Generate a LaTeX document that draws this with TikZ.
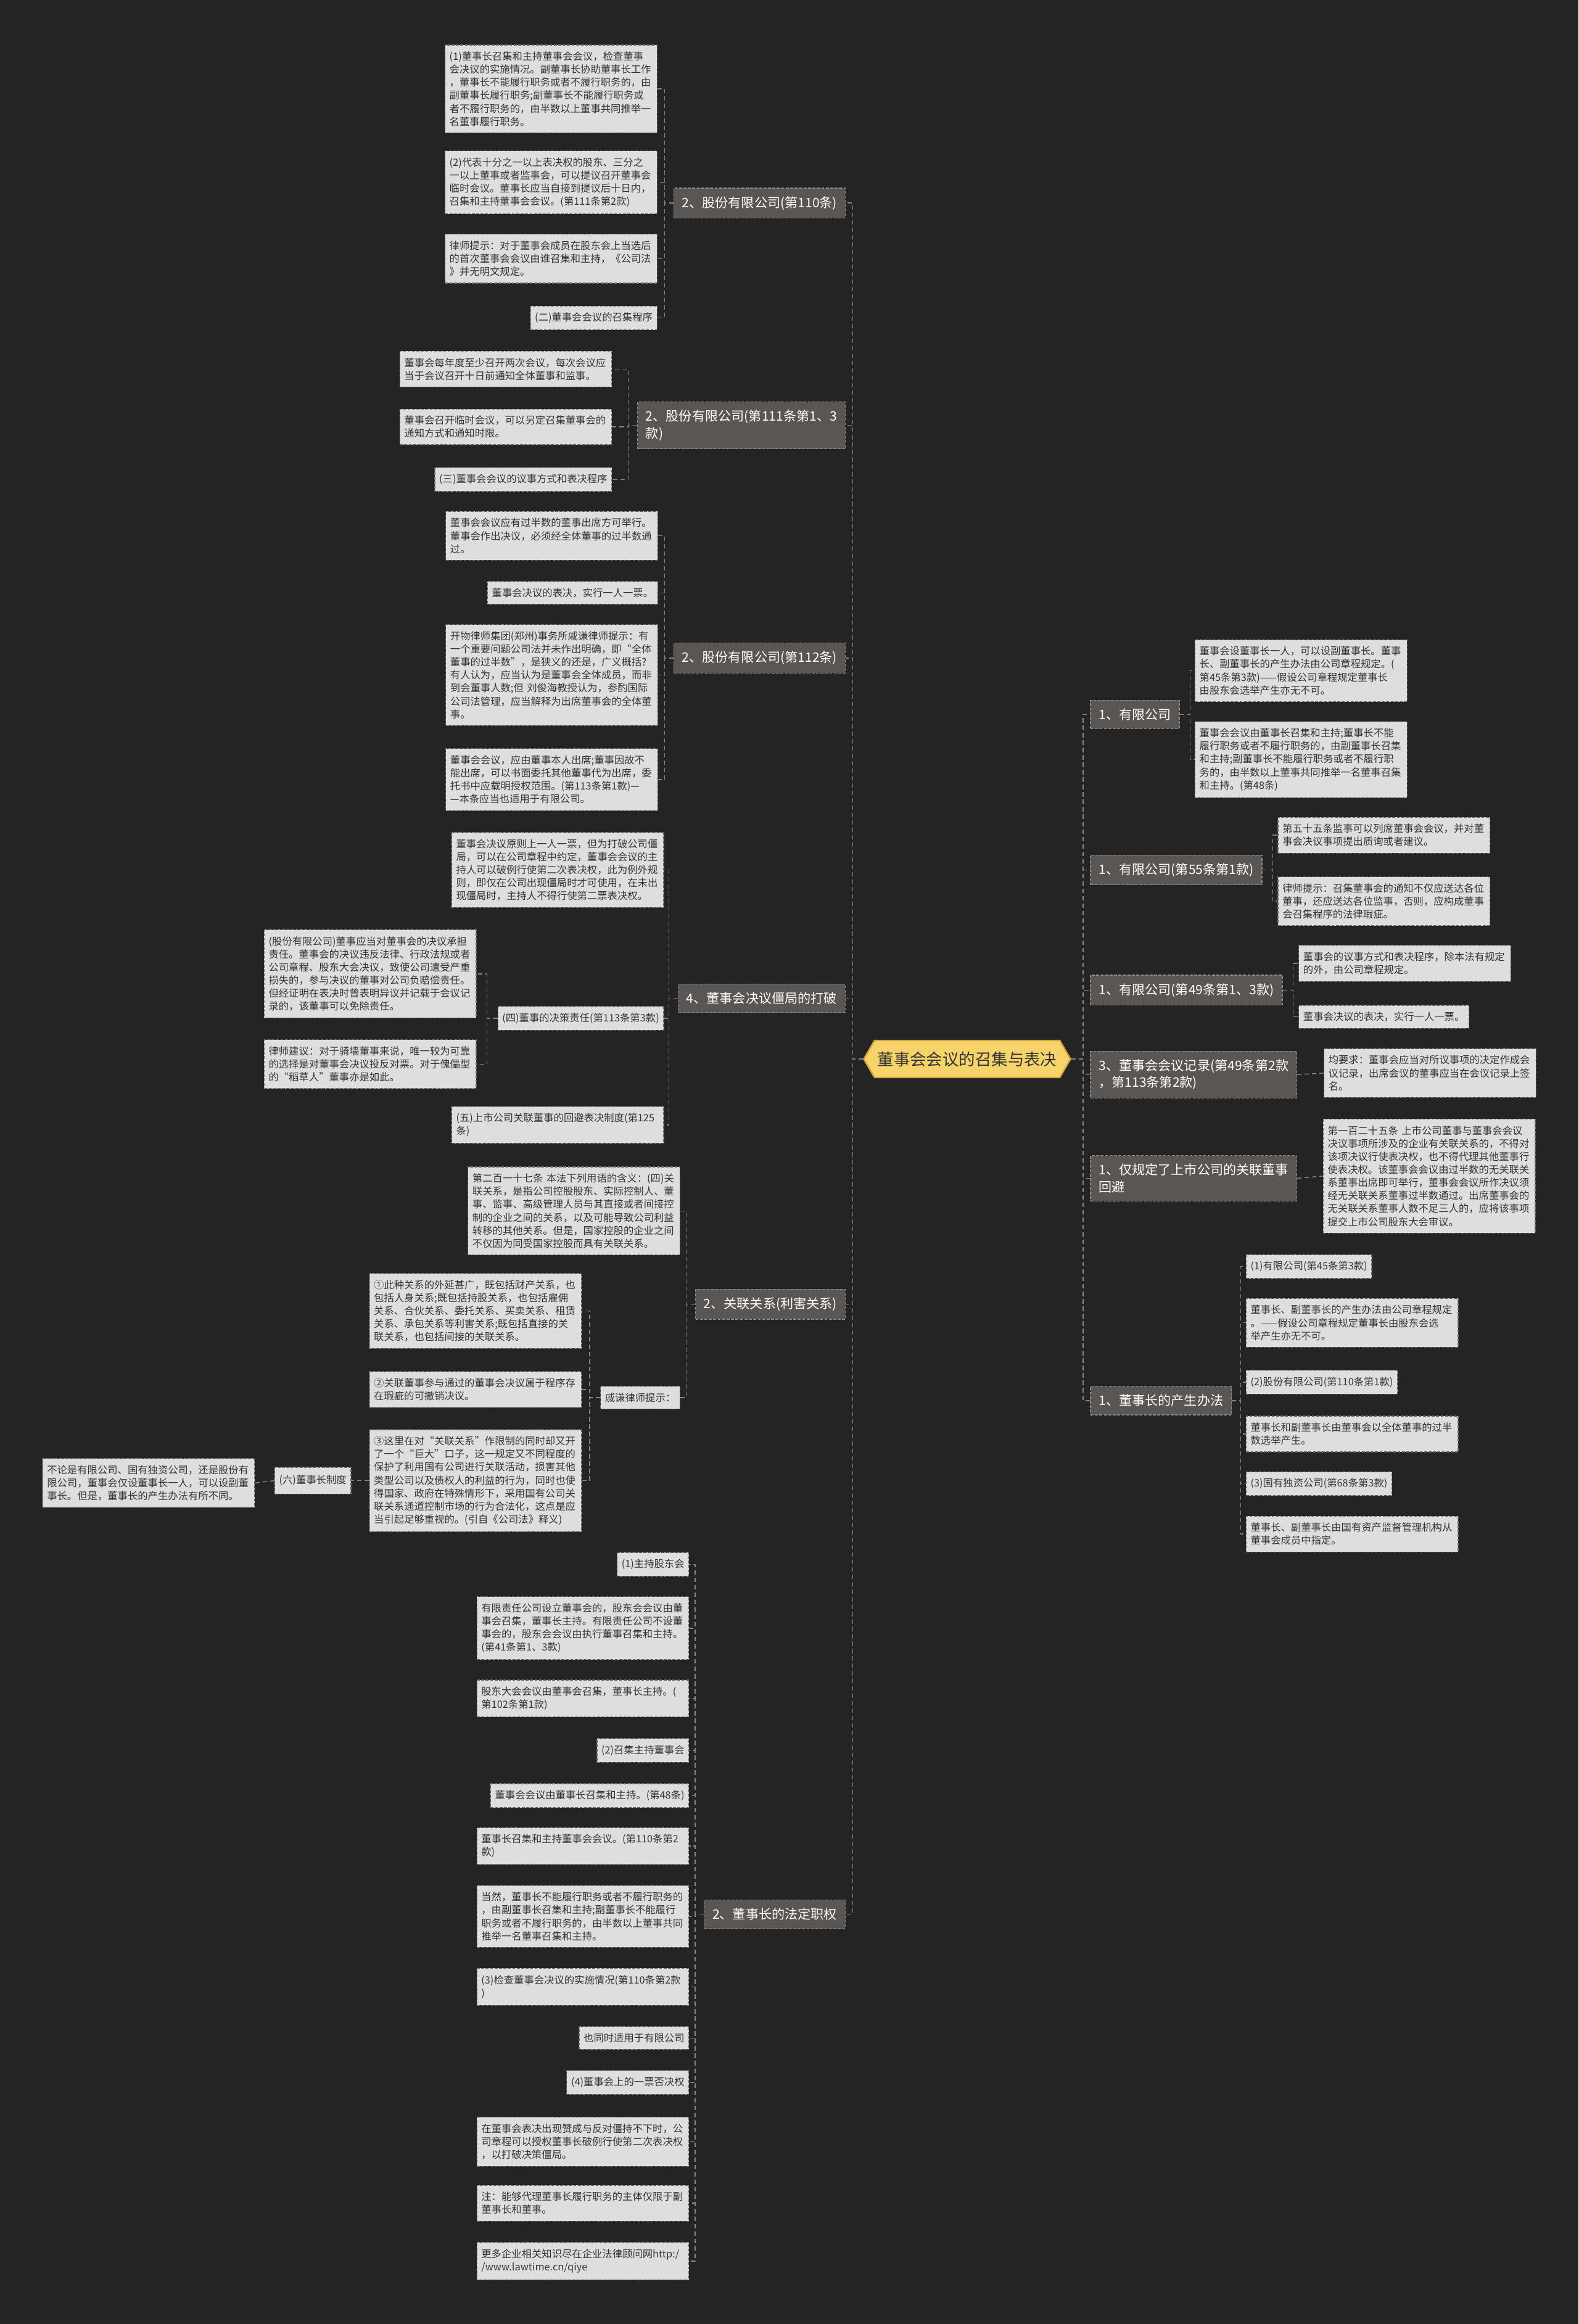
\documentclass[tikz,border=0pt]{standalone}
\usepackage{fontspec}
\setmainfont{Noto Sans CJK SC}
\usetikzlibrary{shapes.symbols}
\definecolor{bgc}{HTML}{242424}
\definecolor{leaffill}{HTML}{DEDEDE}
\definecolor{leafline}{HTML}{6A6A6A}
\definecolor{leaftext}{HTML}{333333}
\definecolor{brfill}{HTML}{5A5654}
\definecolor{brline}{HTML}{8E8A88}
\definecolor{connc}{HTML}{858585}
\definecolor{rootfill}{HTML}{F6D36B}
\definecolor{rootline}{HTML}{D4A43C}
\newcommand\leaffont{\fontsize{6.8}{8.8}\selectfont}
\newcommand\brfont{\fontsize{8.8}{11.5}\selectfont}
\newcommand\rootfont{\fontsize{11}{13}\selectfont}
\begin{document}
\begin{tikzpicture}[x=1pt,y=-1pt,
 leaf/.style={draw=leafline, dash pattern=on 2pt off 1pt, line width=0.5pt, fill=leaffill, text=leaftext, font=\leaffont, align=left, inner xsep=3pt, inner ysep=4.5pt},
 wide/.style={text width=137pt},
 br/.style={draw=brline, dash pattern=on 2pt off 1pt, line width=0.5pt, fill=brfill, text=white, font=\brfont, align=left, inner xsep=5.5pt, inner ysep=5.5pt},
 conn/.style={draw=connc, dash pattern=on 3pt off 2pt, line width=0.6pt},
 rootnode/.style={shape=signal, signal to=west and east, signal pointer angle=120, fill=rootfill, draw=rootline, line width=1pt, text=leaftext, font=\rootfont, minimum height=25pt, inner xsep=2pt}]
\fill[bgc] (0,0) rectangle (1065,1568);
\useasboundingbox (0,0) rectangle (1065,1568);

\node[rootnode] (root) at (652.5,714.5) {董事会会议的召集与表决};

% ---------- left branches
\node[br,anchor=east] (b1) at (570.5,137) {2、股份有限公司(第110条)};
\node[br,anchor=east] (b2) at (570.5,287) {2、股份有限公司(第111条第1、3\\款)};
\node[br,anchor=east] (b3) at (570.5,444) {2、股份有限公司(第112条)};
\node[br,anchor=east] (b4) at (570.5,673.5) {4、董事会决议僵局的打破};
\node[br,anchor=east] (b5) at (570.5,880) {2、关联关系(利害关系)};
\node[br,anchor=east] (b6) at (570.5,1291.5) {2、董事长的法定职权};

% ---------- right branches
\node[br,anchor=west] (r1) at (735.5,482) {1、有限公司};
\node[br,anchor=west] (r2) at (735.5,587) {1、有限公司(第55条第1款)};
\node[br,anchor=west] (r3) at (735.5,668) {1、有限公司(第49条第1、3款)};
\node[br,anchor=west] (r4) at (735.5,725) {3、董事会会议记录(第49条第2款\\，第113条第2款)};
\node[br,anchor=west] (r5) at (735.5,795) {1、仅规定了上市公司的关联董事\\回避};
\node[br,anchor=west] (r6) at (735.5,945) {1、董事长的产生办法};

% ---------- b1 leaves
\node[leaf,wide,anchor=east] (l1a) at (443.5,60) {(1)董事长召集和主持董事会会议，检查董事\\会决议的实施情况。副董事长协助董事长工作\\，董事长不能履行职务或者不履行职务的，由\\副董事长履行职务;副董事长不能履行职务或\\者不履行职务的，由半数以上董事共同推举一\\名董事履行职务。};
\node[leaf,wide,anchor=east] (l1b) at (443.5,123) {(2)代表十分之一以上表决权的股东、三分之\\一以上董事或者监事会，可以提议召开董事会\\临时会议。董事长应当自接到提议后十日内，\\召集和主持董事会会议。(第111条第2款)};
\node[leaf,wide,anchor=east] (l1c) at (443.5,174.5) {律师提示：对于董事会成员在股东会上当选后\\的首次董事会会议由谁召集和主持，《公司法\\》并无明文规定。};
\node[leaf,anchor=east] (l1d) at (443.5,214.5) {(二)董事会会议的召集程序};

% ---------- b2 leaves
\node[leaf,wide,anchor=east] (l2a) at (413,249) {董事会每年度至少召开两次会议，每次会议应\\当于会议召开十日前通知全体董事和监事。};
\node[leaf,wide,anchor=east] (l2b) at (413,288) {董事会召开临时会议，可以另定召集董事会的\\通知方式和通知时限。};
\node[leaf,anchor=east] (l2c) at (413,323.5) {(三)董事会会议的议事方式和表决程序};

% ---------- b3 leaves
\node[leaf,wide,anchor=east] (l3a) at (444,361.5) {董事会会议应有过半数的董事出席方可举行。\\董事会作出决议，必须经全体董事的过半数通\\过。};
\node[leaf,anchor=east] (l3b) at (444,400) {董事会决议的表决，实行一人一票。};
\node[leaf,wide,anchor=east] (l3c) at (444,455.5) {开物律师集团(郑州)事务所戚谦律师提示：有\\一个重要问题公司法并未作出明确，即“全体\\董事的过半数”，是狭义的还是，广义概括?\\有人认为，应当认为是董事会全体成员，而非\\到会董事人数;但~刘俊海教授认为，参酌国际\\公司法管理，应当解释为出席董事会的全体董\\事。};
\node[leaf,wide,anchor=east] (l3d) at (444,526) {董事会会议，应由董事本人出席;董事因故不\\能出席，可以书面委托其他董事代为出席，委\\托书中应载明授权范围。(第113条第1款)—\\—本条应当也适用于有限公司。};

% ---------- b4 leaves
\node[leaf,wide,anchor=east] (l4a) at (448,587) {董事会决议原则上一人一票，但为打破公司僵\\局，可以在公司章程中约定，董事会会议的主\\持人可以破例行使第二次表决权，此为例外规\\则，即仅在公司出现僵局时才可使用，在未出\\现僵局时，主持人不得行使第二票表决权。};
\node[leaf,anchor=east] (l4b) at (448,687) {(四)董事的决策责任(第113条第3款)};
\node[leaf,wide,anchor=east] (l4b1) at (321.5,657) {(股份有限公司)董事应当对董事会的决议承担\\责任。董事会的决议违反法律、行政法规或者\\公司章程、股东大会决议，致使公司遭受严重\\损失的，参与决议的董事对公司负赔偿责任。\\但经证明在表决时曾表明异议并记载于会议记\\录的，该董事可以免除责任。};
\node[leaf,wide,anchor=east] (l4b2) at (321.5,718) {律师建议：对于骑墙董事来说，唯一较为可靠\\的选择是对董事会决议投反对票。对于傀儡型\\的“稻草人”董事亦是如此。};
\node[leaf,wide,anchor=east] (l4c) at (448,759) {(五)上市公司关联董事的回避表决制度(第125\\条)};

% ---------- b5 leaves
\node[leaf,wide,anchor=east] (l5a) at (459,817) {第二百一十七条~本法下列用语的含义：(四)关\\联关系，是指公司控股股东、实际控制人、董\\事、监事、高级管理人员与其直接或者间接控\\制的企业之间的关系，以及可能导致公司利益\\转移的其他关系。但是，国家控股的企业之间\\不仅因为同受国家控股而具有关联关系。};
\node[leaf,anchor=east] (l5b) at (459,943) {戚谦律师提示：};
\node[leaf,wide,anchor=east] (l5b1) at (392.5,884.5) {①此种关系的外延甚广，既包括财产关系，也\\包括人身关系;既包括持股关系，也包括雇佣\\关系、合伙关系、委托关系、买卖关系、租赁\\关系、承包关系等利害关系;既包括直接的关\\联关系，也包括间接的关联关系。};
\node[leaf,wide,anchor=east] (l5b2) at (392.5,937.5) {②关联董事参与通过的董事会决议属于程序存\\在瑕疵的可撤销决议。};
\node[leaf,wide,anchor=east] (l5b3) at (392.5,999) {③这里在对“关联关系”作限制的同时却又开\\了一个“巨大”口子，这一规定又不同程度的\\保护了利用国有公司进行关联活动，损害其他\\类型公司以及债权人的利益的行为，同时也使\\得国家、政府在特殊情形下，采用国有公司关\\联关系通道控制市场的行为合法化，这点是应\\当引起足够重视的。(引自《公司法》释义)};
\node[leaf,anchor=east,minimum height=18pt] (l6) at (237,999) {(六)董事长制度};
\node[leaf,wide,anchor=east] (l6a) at (172,1000.5) {不论是有限公司、国有独资公司，还是股份有\\限公司，董事会仅设董事长一人，可以设副董\\事长。但是，董事长的产生办法有所不同。};

% ---------- b6 leaves
\node[leaf,anchor=east] (m1) at (465,1055.5) {(1)主持股东会};
\node[leaf,wide,anchor=east] (m2) at (465,1098.5) {有限责任公司设立董事会的，股东会会议由董\\事会召集，董事长主持。有限责任公司不设董\\事会的，股东会会议由执行董事召集和主持。\\(第41条第1、3款)};
\node[leaf,wide,anchor=east] (m3) at (465,1146) {股东大会会议由董事会召集，董事长主持。(\\第102条第1款)};
\node[leaf,anchor=east] (m4) at (465,1181) {(2)召集主持董事会};
\node[leaf,anchor=east] (m5) at (465,1211.5) {董事会会议由董事长召集和主持。(第48条)};
\node[leaf,wide,anchor=east] (m6) at (465,1245.5) {董事长召集和主持董事会会议。(第110条第2\\款)};
\node[leaf,wide,anchor=east] (m7) at (465,1293) {当然，董事长不能履行职务或者不履行职务的\\，由副董事长召集和主持;副董事长不能履行\\职务或者不履行职务的，由半数以上董事共同\\推举一名董事召集和主持。};
\node[leaf,wide,anchor=east] (m8) at (465,1340.5) {(3)检查董事会决议的实施情况(第110条第2款\\)};
\node[leaf,anchor=east] (m9) at (465,1375) {也同时适用于有限公司};
\node[leaf,anchor=east] (m10) at (465,1405) {(4)董事会上的一票否决权};
\node[leaf,wide,anchor=east] (m11) at (465,1445) {在董事会表决出现赞成与反对僵持不下时，公\\司章程可以授权董事长破例行使第二次表决权\\，以打破决策僵局。};
\node[leaf,wide,anchor=east] (m12) at (465,1486.5) {注：能够代理董事长履行职务的主体仅限于副\\董事长和董事。};
\node[leaf,wide,anchor=east] (m13) at (465,1525.5) {更多企业相关知识尽在企业法律顾问网http:/\\/www.lawtime.cn/qiye};

% ---------- right leaves
\node[leaf,wide,anchor=west] (n1a) at (806,452.5) {董事会设董事长一人，可以设副董事长。董事\\长、副董事长的产生办法由公司章程规定。(\\第45条第3款)——假设公司章程规定董事长\\由股东会选举产生亦无不可。};
\node[leaf,wide,anchor=west] (n1b) at (806,512.5) {董事会会议由董事长召集和主持;董事长不能\\履行职务或者不履行职务的，由副董事长召集\\和主持;副董事长不能履行职务或者不履行职\\务的，由半数以上董事共同推举一名董事召集\\和主持。(第48条)};
\node[leaf,wide,anchor=west] (n2a) at (862,563.5) {第五十五条监事可以列席董事会会议，并对董\\事会决议事项提出质询或者建议。};
\node[leaf,wide,anchor=west] (n2b) at (862,608) {律师提示：召集董事会的通知不仅应送达各位\\董事，还应送达各位监事，否则，应构成董事\\会召集程序的法律瑕疵。};
\node[leaf,wide,anchor=west] (n3a) at (876,650) {董事会的议事方式和表决程序，除本法有规定\\的外，由公司章程规定。};
\node[leaf,anchor=west] (n3b) at (876,686) {董事会决议的表决，实行一人一票。};
\node[leaf,wide,anchor=west] (n4a) at (893,724) {均要求：董事会应当对所议事项的决定作成会\\议记录，出席会议的董事应当在会议记录上签\\名。};
\node[leaf,wide,anchor=west] (n5a) at (892.5,793.5) {第一百二十五条~上市公司董事与董事会会议\\决议事项所涉及的企业有关联关系的，不得对\\该项决议行使表决权，也不得代理其他董事行\\使表决权。该董事会会议由过半数的无关联关\\系董事出席即可举行，董事会会议所作决议须\\经无关联关系董事过半数通过。出席董事会的\\无关联关系董事人数不足三人的，应将该事项\\提交上市公司股东大会审议。};
\node[leaf,anchor=west] (n6a) at (840.5,854.5) {(1)有限公司(第45条第3款)};
\node[leaf,wide,anchor=west] (n6b) at (840.5,892.5) {董事长、副董事长的产生办法由公司章程规定\\。——假设公司章程规定董事长由股东会选\\举产生亦无不可。};
\node[leaf,anchor=west] (n6c) at (840.5,932.5) {(2)股份有限公司(第110条第1款)};
\node[leaf,wide,anchor=west] (n6d) at (840.5,967.5) {董事长和副董事长由董事会以全体董事的过半\\数选举产生。};
\node[leaf,anchor=west] (n6e) at (840.5,1001) {(3)国有独资公司(第68条第3款)};
\node[leaf,wide,anchor=west] (n6f) at (840.5,1035) {董事长、副董事长由国有资产监督管理机构从\\董事会成员中指定。};

% ---------- connectors: root to branches
\foreach \b in {b1,b2,b3,b4,b5,b6}
  \draw[conn] (root.west) -- ++(-7,0) |- (\b.east);
\foreach \b in {r1,r2,r3,r4,r5,r6}
  \draw[conn] (root.east) -- ++(8,0) |- (\b.west);

% left branch children
\foreach \c in {l1a,l1b,l1c,l1d}
  \draw[conn] (b1.west) -- ++(-6,0) |- (\c.east);
\foreach \c in {l2a,l2b,l2c}
  \draw[conn] (b2.west) -- ++(-6,0) |- (\c.east);
\foreach \c in {l3a,l3b,l3c,l3d}
  \draw[conn] (b3.west) -- ++(-6,0) |- (\c.east);
\foreach \c in {l4a,l4b,l4c}
  \draw[conn] (b4.west) -- ++(-6,0) |- (\c.east);
\foreach \c in {l4b1,l4b2}
  \draw[conn] (l4b.west) -- ++(-7,0) |- (\c.east);
\foreach \c in {l5a,l5b}
  \draw[conn] (b5.west) -- ++(-6,0) |- (\c.east);
\foreach \c in {l5b1,l5b2,l5b3}
  \draw[conn] (l5b.west) -- ++(-7,0) |- (\c.east);
\draw[conn] (l5b3.west) -- (l6.east);
\draw[conn] (l6.west) -- (l6a.east);
\foreach \c in {m1,m2,m3,m4,m5,m6,m7,m8,m9,m10,m11,m12,m13}
  \draw[conn] (b6.west) -- ++(-6,0) |- (\c.east);

% right branch children
\foreach \c in {n1a,n1b}
  \draw[conn] (r1.east) -- ++(7,0) |- (\c.west);
\foreach \c in {n2a,n2b}
  \draw[conn] (r2.east) -- ++(7,0) |- (\c.west);
\foreach \c in {n3a,n3b}
  \draw[conn] (r3.east) -- ++(7,0) |- (\c.west);
\draw[conn] (r4.east) -- (n4a.west);
\draw[conn] (r5.east) -- (n5a.west);
\foreach \c in {n6a,n6b,n6c,n6d,n6e,n6f}
  \draw[conn] (r6.east) -- ++(6,0) |- (\c.west);
\end{tikzpicture}
\end{document}
